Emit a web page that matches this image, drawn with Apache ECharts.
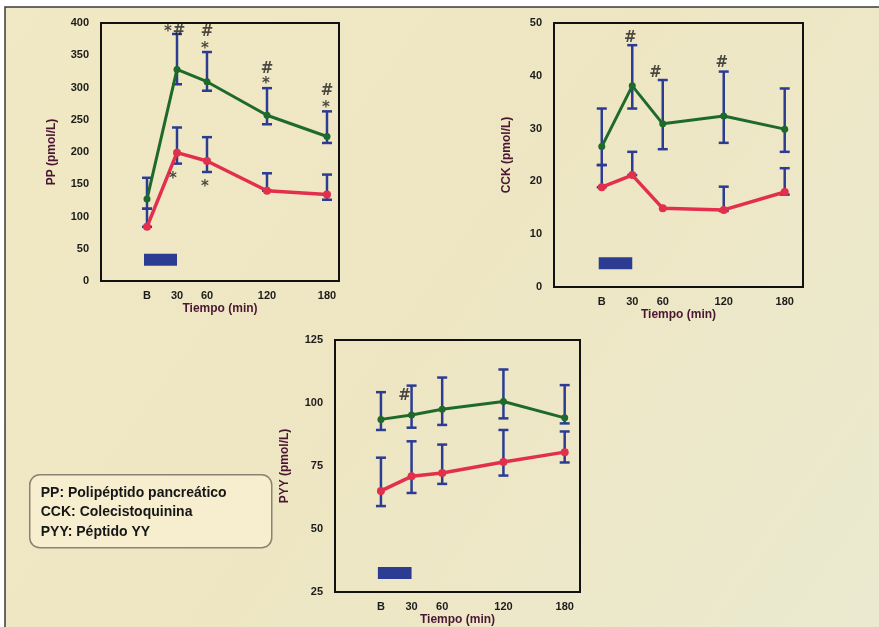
<!DOCTYPE html>
<html>
<head>
<meta charset="utf-8">
<script src="https://cdn.jsdelivr.net/npm/echarts@6/dist/echarts.min.js"></script>
<style>
  html, body { margin: 0; padding: 0; background: #ffffff; }
  #chart { width: 879px; height: 627px; }
</style>
</head>
<body>
<div id="chart"></div>
<script>
// tiempos (min); B = basal = 0
const times = [0, 30, 60, 120, 180];
const timeLabels = ['B', '30', '60', '120', '180'];
const mealPeriod = [-3, 30];

// PP (pmol/L)
const ppGreen = [127, 328, 309, 257, 224];
const ppGreenLow = [112, 305, 295, 243, 214];
const ppGreenHigh = [160, 383, 355, 299, 263];
const ppRed = [84, 199, 186, 140, 134];
const ppRedLow = [84, 182, 169, 140, 126];
const ppRedHigh = [112, 238, 223, 167, 165];
const ppMarks = [[21, 386, '*'], [32, 388, '#'], [60, 386, '#'], [58, 360, '*'],
                 [120, 328, '#'], [119, 305, '*'], [180, 295, '#'], [179, 268, '*'],
                 [26, 158, '*'], [58, 145, '*']];

// CCK (pmol/L)
const cckGreen = [26.6, 38.1, 30.9, 32.4, 29.9];
const cckGreenLow = [23.1, 33.8, 26.1, 27.3, 25.6];
const cckGreenHigh = [33.8, 45.8, 39.2, 40.8, 37.6];
const cckRed = [18.9, 21.2, 14.9, 14.6, 18.0];
const cckRedLow = [18.9, 21.2, 14.9, 14.4, 17.5];
const cckRedHigh = [23.1, 25.6, 14.9, 19.0, 22.5];
const cckMarks = [[28, 47.1, '#'], [53, 40.5, '#'], [118, 42.4, '#']];

// PYY (pmol/L)
const pyyGreen = [93.5, 95.2, 97.5, 100.6, 94.1];
const pyyGreenLow = [89.3, 90.2, 91.3, 93.9, 91.9];
const pyyGreenHigh = [104.3, 106.9, 110.1, 113.3, 107.1];
const pyyRed = [65.1, 70.9, 72.2, 76.6, 80.5];
const pyyRedLow = [59.1, 64.3, 67.9, 71.2, 76.4];
const pyyRedHigh = [78.3, 84.8, 83.5, 89.3, 88.7];
const pyyMarks = [[23, 102.9, '#']];

const legendLines = ['PP: Polipéptido pancreático', 'CCK: Colecistoquinina', 'PYY: Péptido YY'];

const chart = echarts.init(document.getElementById('chart'));

const GREEN = '#1d6a2c';
const RED = '#e2304c';
const BLUE = '#2b3c92';
const TITLE = '#4a1733';

function pairs(vals) {
    return times.map((t, i) => [t, vals[i]]);
}

function errData(low, high) {
    return times.map((t, i) => [t, low[i], high[i]]);
}

function errorRender(params, api) {
    const x = api.value(0);
    const lo = api.coord([x, api.value(1)]);
    const hi = api.coord([x, api.value(2)]);
    const cap = 5;
    const style = { stroke: BLUE, lineWidth: 2.5 };
    const children = [
        { type: 'line', shape: { x1: lo[0], y1: lo[1], x2: hi[0], y2: hi[1] }, style }
    ];
    if (hi[1] < lo[1] - 1) {
        children.push({ type: 'line', shape: { x1: hi[0] - cap, y1: hi[1], x2: hi[0] + cap, y2: hi[1] }, style });
        children.push({ type: 'line', shape: { x1: lo[0] - cap, y1: lo[1], x2: lo[0] + cap, y2: lo[1] }, style });
    }
    return { type: 'group', children };
}

function barRender(params, api) {
    const a = api.coord([api.value(0), api.value(2)]);
    const b = api.coord([api.value(1), api.value(2)]);
    return {
        type: 'rect',
        shape: { x: a[0], y: a[1] - 6, width: b[0] - a[0], height: 12 },
        style: { fill: BLUE }
    };
}

const axisText = { color: '#1c1c1c', fontWeight: 'bold', fontSize: 11, fontFamily: 'Liberation Sans' };
const nameText = { color: TITLE, fontWeight: 'bold', fontSize: 12, fontFamily: 'Liberation Sans' };

function xAxis(grid, min, max) {
    return {
        type: 'value', gridIndex: grid, min, max,
        name: 'Tiempo (min)', nameLocation: 'middle', nameGap: 22, nameTextStyle: nameText,
        axisLine: { show: false }, axisTick: { show: false }, splitLine: { show: false },
        axisLabel: Object.assign({
            customValues: times, margin: 9,
            formatter: v => timeLabels[times.indexOf(v)] || ''
        }, axisText)
    };
}

function yAxis(grid, name, min, max, interval, gap) {
    return {
        type: 'value', gridIndex: grid, min, max, interval,
        name, nameLocation: 'middle', nameGap: gap, nameTextStyle: nameText,
        axisLine: { show: false }, axisTick: { show: false }, splitLine: { show: false },
        axisLabel: Object.assign({ margin: 12 }, axisText)
    };
}

function panelSeries(idx, green, red, gLow, gHigh, rLow, rHigh, marks, barY) {
    const common = { xAxisIndex: idx, yAxisIndex: idx, silent: true, animation: false };
    return [
        Object.assign({ type: 'custom', renderItem: barRender, data: [[mealPeriod[0], mealPeriod[1], barY]], z: 2 }, common),
        Object.assign({ type: 'custom', renderItem: errorRender, data: errData(rLow, rHigh), z: 3 }, common),
        Object.assign({ type: 'custom', renderItem: errorRender, data: errData(gLow, gHigh), z: 3 }, common),
        Object.assign({
            type: 'line', data: pairs(red), z: 4,
            lineStyle: { color: RED, width: 3.5 }, itemStyle: { color: RED },
            symbol: 'circle', symbolSize: 8
        }, common),
        Object.assign({
            type: 'line', data: pairs(green), z: 5,
            lineStyle: { color: GREEN, width: 3 }, itemStyle: { color: GREEN },
            symbol: 'circle', symbolSize: 7
        }, common),
        Object.assign({
            type: 'scatter', data: marks, symbolSize: 0, z: 6,
            label: {
                show: true, position: 'inside', formatter: p => p.value[2],
                color: '#1e1e1e', fontWeight: 'bold', fontSize: 15, fontFamily: 'DejaVu Sans'
            }
        }, common)
    ];
}

const gridStyle = { show: true, borderColor: '#111111', borderWidth: 2, backgroundColor: 'transparent' };

const option = {
    backgroundColor: 'transparent',
    graphic: [
        {
            type: 'rect', z: -10, silent: true,
            shape: { x: 5, y: 7, width: 880, height: 630 },
            style: {
                fill: new echarts.graphic.LinearGradient(0, 0, 1, 1, [
                    { offset: 0, color: '#f1e8c4' },
                    { offset: 0.5, color: '#eee6c3' },
                    { offset: 1, color: '#ebead0' }
                ]),
                stroke: '#3a3a3a', lineWidth: 1.5
            }
        },
        {
            type: 'group', left: 29, top: 474, z: 10,
            children: [
                {
                    type: 'rect',
                    shape: { x: 0, y: 0, width: 242, height: 73, r: 10 },
                    style: { fill: '#f6eecf', stroke: '#8a8272', lineWidth: 1.5 }
                }
            ].concat(legendLines.map((t, i) => ({
                type: 'text',
                x: 11, y: 11 + i * 19.5,
                style: { text: t, fill: '#161616', font: 'bold 14px "Liberation Sans", Arial, sans-serif' }
            })))
        }
    ],
    grid: [
        Object.assign({ left: 101, top: 23, width: 238, height: 258 }, gridStyle),
        Object.assign({ left: 554, top: 23, width: 249, height: 264 }, gridStyle),
        Object.assign({ left: 335, top: 340, width: 245, height: 257 }, gridStyle)
    ],
    xAxis: [
        xAxis(0, -46, 192),
        xAxis(1, -47, 198),
        xAxis(2, -45, 195)
    ],
    yAxis: [
        yAxis(0, 'PP (pmol/L)', 0, 400, 50, 43),
        yAxis(1, 'CCK (pmol/L)', 0, 50, 10, 41),
        yAxis(2, 'PYY (pmol/L)', 25, 125, 25, 44)
    ],
    series: [].concat(
        panelSeries(0, ppGreen, ppRed, ppGreenLow, ppGreenHigh, ppRedLow, ppRedHigh, ppMarks, 33),
        panelSeries(1, cckGreen, cckRed, cckGreenLow, cckGreenHigh, cckRedLow, cckRedHigh, cckMarks, 4.5),
        panelSeries(2, pyyGreen, pyyRed, pyyGreenLow, pyyGreenHigh, pyyRedLow, pyyRedHigh, pyyMarks, 32.5)
    )
};

chart.setOption(option);
</script>
</body>
</html>
